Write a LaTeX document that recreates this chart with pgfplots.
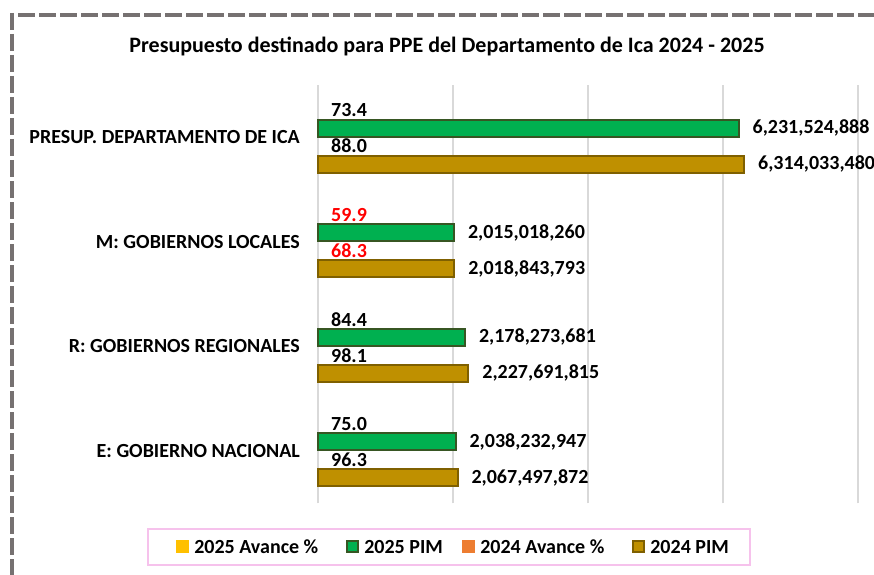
\documentclass[border=0pt]{standalone}
\usepackage{pgfplots}
\pgfplotsset{compat=1.18}
\usepackage{fontspec}
\setmainfont{Carlito}
\definecolor{cgreen}{HTML}{00B050}
\definecolor{cgreenD}{HTML}{375623}
\definecolor{cgold}{HTML}{BF9000}
\definecolor{cgoldD}{HTML}{7F6000}
\definecolor{cyel}{HTML}{FFC000}
\definecolor{corange}{HTML}{ED7D31}
\definecolor{cgrid}{HTML}{D9D9D9}
\definecolor{cframe}{HTML}{767171}
\definecolor{cpink}{HTML}{F6C2EC}
\newcommand{\lbl}{\bfseries\fontsize{20}{24}\selectfont}
\begin{document}
\begin{tikzpicture}
\useasboundingbox (0pt,0pt) rectangle (874pt,574pt);
\clip (0pt,0pt) rectangle (874pt,574pt);
\fill[white] (0pt,0pt) rectangle (874pt,574pt);
\draw[cframe, line width=4pt, dash pattern=on 17pt off 4pt] (18pt,559pt) -- (900pt,559pt);
\draw[cframe, line width=4pt, dash pattern=on 17pt off 4pt] (12pt,561pt) -- (12pt,-20pt);
\node[font=\bfseries\fontsize{22}{26}\selectfont] at (447pt,528pt) {Presupuesto destinado para PPE del Departamento de Ica 2024 - 2025};
\begin{axis}[
  at={(318pt,70.7pt)}, anchor=south west,
  scale only axis, width=540pt, height=418.6pt,
  xmin=0, xmax=8e9, ymin=-0.5, ymax=3.5,
  xtick={0,2e9,4e9,6e9,8e9}, xticklabels={}, scaled x ticks=false,
  xmajorgrids, grid style={cgrid, line width=1.5pt},
  ytick={0,1,2,3},
  yticklabels={E: GOBIERNO NACIONAL, R: GOBIERNOS REGIONALES, M: GOBIERNOS LOCALES, PRESUP. DEPARTAMENTO DE ICA},
  yticklabel style={font=\lbl, inner sep=0pt, anchor=east, xshift=-18pt},
  axis line style={draw=none},
  major tick length=0pt,
  xbar, bar width=17pt,
  point meta=explicit symbolic,
  nodes near coords,
  nodes near coords style={font=\lbl, inner sep=0pt, anchor=west, xshift=13pt},
  clip=false,
  legend columns=4,
  legend style={at={(0.2425,-0.1044)}, anchor=center, draw=cpink, line width=2.5pt,
    inner xsep=21pt, inner ysep=11pt,
    nodes={inner sep=0pt, text height=13pt, text depth=1pt, font=\lbl},
    /tikz/every odd column/.append style={column sep=5pt},
    /tikz/every even column/.append style={column sep=28pt}},
]
\addlegendimage{legend image code/.code={\path[draw=none, fill=none] (0pt,-5pt) rectangle (19pt,6pt); \fill[cyel] (8pt,-5pt) rectangle (19pt,6pt);}}
\addlegendimage{legend image code/.code={\draw[cgreenD, fill=cgreen, line width=2pt] (1pt,-5pt) rectangle (12pt,6pt);}}
\addlegendimage{legend image code/.code={\fill[corange] (0pt,-5pt) rectangle (11pt,6pt);}}
\addlegendimage{legend image code/.code={\draw[cgoldD, fill=cgold, line width=2pt] (1pt,-5pt) rectangle (12pt,6pt);}}
% 2025 Avance %
\addplot[xbar, bar shift=27pt, draw=none, fill=none, forget plot] coordinates {(73.4,3) [73.4] (84.4,1) [84.4] (75.0,0) [75.0]};
\addplot[xbar, bar shift=27pt, draw=none, fill=none, forget plot, nodes near coords style={text=red}] coordinates {(59.9,2) [59.9]};
% 2025 PIM
\addplot[xbar, bar shift=9pt, draw=cgreenD, fill=cgreen, line width=2pt, forget plot] coordinates {(6231524888,3) [6,231,524,888] (2015018260,2) [2,015,018,260] (2178273681,1) [2,178,273,681] (2038232947,0) [2,038,232,947]};
% 2024 Avance %
\addplot[xbar, bar shift=-9pt, draw=none, fill=none, forget plot] coordinates {(88.0,3) [88.0] (98.1,1) [98.1] (96.3,0) [96.3]};
\addplot[xbar, bar shift=-9pt, draw=none, fill=none, forget plot, nodes near coords style={text=red}] coordinates {(68.3,2) [68.3]};
% 2024 PIM
\addplot[xbar, bar shift=-27pt, draw=cgoldD, fill=cgold, line width=2pt, forget plot] coordinates {(6314033480,3) [6,314,033,480] (2018843793,2) [2,018,843,793] (2227691815,1) [2,227,691,815] (2067497872,0) [2,067,497,872]};
\legend{2025 Avance \%, 2025 PIM\hspace*{-9pt}, 2024 Avance \%, 2024 PIM}
\end{axis}
\end{tikzpicture}
\end{document}
